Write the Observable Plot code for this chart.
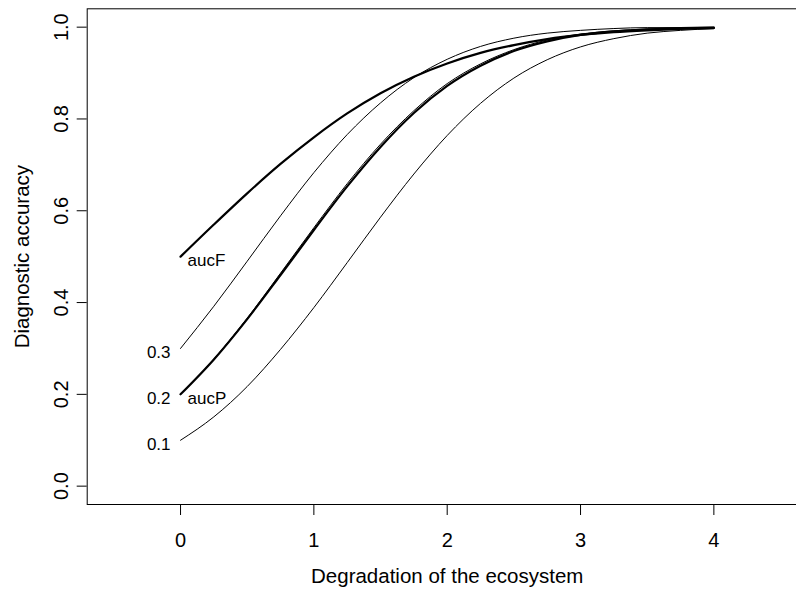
<!DOCTYPE html>
<html>
<head>
<meta charset="utf-8">
<script src="https://cdn.jsdelivr.net/npm/d3@7"></script>
<script src="https://cdn.jsdelivr.net/npm/@observablehq/plot@0.6"></script>
<style>
  html, body { margin: 0; padding: 0; background: #fff; overflow: hidden; }
  svg { overflow: hidden; display: block; }
</style>
</head>
<body>
<div id="chart"></div>
<script>
// Degradation of the ecosystem (x positions where values were read)
const degradation = [0, 0.25, 0.5, 0.75, 1, 1.25, 1.5, 1.75, 2, 2.25, 2.5, 2.75, 3, 3.25, 3.5, 3.75, 4];

// Diagnostic accuracy of each curve
const acc01  = [0.100, 0.151, 0.217, 0.298, 0.389, 0.487, 0.586, 0.680, 0.764, 0.834, 0.889, 0.929, 0.957, 0.975, 0.987, 0.993, 0.997];
const acc02  = [0.200, 0.277, 0.366, 0.464, 0.563, 0.659, 0.745, 0.818, 0.877, 0.920, 0.951, 0.972, 0.985, 0.992, 0.996, 0.998, 0.999];
const acc03  = [0.300, 0.392, 0.490, 0.589, 0.683, 0.766, 0.835, 0.890, 0.930, 0.958, 0.976, 0.987, 0.993, 0.997, 0.999, 0.999, 1.000];
const aucP   = [0.200, 0.276, 0.364, 0.460, 0.558, 0.653, 0.739, 0.813, 0.872, 0.916, 0.948, 0.969, 0.983, 0.991, 0.995, 0.998, 0.999];
const aucF   = [0.500, 0.570, 0.638, 0.702, 0.760, 0.812, 0.856, 0.892, 0.921, 0.944, 0.961, 0.974, 0.983, 0.989, 0.993, 0.996, 0.998];

const seriesNames = ["0.1", "0.2", "0.3", "aucP", "aucF"];
const seriesValues = [acc01, acc02, acc03, aucP, aucF];
const thickSeries = ["aucP", "aucF"];

// Labels at the start of each curve
const leftLabels = ["0.3", "0.2", "0.1"];
const leftLabelY = [0.3, 0.2, 0.1];
const rightLabels = ["aucF", "aucP"];
const rightLabelY = [0.5, 0.2];

// Axes
const xTicks = [0, 1, 2, 3, 4];
const yTicks = [0.0, 0.2, 0.4, 0.6, 0.8, 1.0];
const xTitle = "Degradation of the ecosystem";
const yTitle = "Diagnostic accuracy";

const rows = [];
seriesNames.forEach((name, i) => {
  degradation.forEach((x, j) => rows.push({series: name, x, y: seriesValues[i][j]}));
});
const thin = rows.filter(d => !thickSeries.includes(d.series));
const thick = rows.filter(d => thickSeries.includes(d.series));

const font = "Liberation Sans, Arial, Helvetica, sans-serif";

const chart = Plot.plot({
  width: 796,
  height: 590,
  marginLeft: 86.7,
  marginRight: -10.7,
  marginTop: 8.3,
  marginBottom: 86,
  style: {fontFamily: font, background: "#fff", color: "#000"},
  x: {domain: [-0.7, 4.7], axis: null},
  y: {domain: [-0.04, 1.04], axis: null},
  marks: [
    Plot.frame({stroke: "#000", strokeWidth: 1}),
    Plot.axisX({ticks: xTicks, tickSize: 11, tickFormat: () => "", label: null, stroke: "#000", strokeWidth: 1}),
    Plot.axisY({ticks: yTicks, tickSize: 10, tickFormat: () => "", label: null, stroke: "#000", strokeWidth: 1}),
    Plot.text(xTicks, {x: d => d, frameAnchor: "bottom", dy: 36, text: d => String(d), fontSize: 20, textAnchor: "middle", lineAnchor: "middle", fill: "#000"}),
    Plot.text(yTicks, {y: d => d, frameAnchor: "left", dx: -26, rotate: -90, text: d => d3.format(".1f")(d), fontSize: 20, textAnchor: "middle", lineAnchor: "middle", fill: "#000"}),
    Plot.text([xTitle], {frameAnchor: "bottom", dy: 72, text: d => d, fontSize: 20.5, textAnchor: "middle", lineAnchor: "middle", fill: "#000"}),
    Plot.text([yTitle], {frameAnchor: "left", dx: -65, rotate: -90, text: d => d, fontSize: 20.5, textAnchor: "middle", lineAnchor: "middle", fill: "#000"}),
    Plot.line(thin, {x: "x", y: "y", z: "series", stroke: "#000", strokeWidth: 1, curve: "monotone-x"}),
    Plot.line(thick, {x: "x", y: "y", z: "series", stroke: "#000", strokeWidth: 2.2, curve: "monotone-x"}),
    Plot.text(leftLabels, {x: 0, y: (d, i) => leftLabelY[i], text: d => d, textAnchor: "end", dx: -10, dy: 4, fontSize: 17, lineAnchor: "middle", fill: "#000"}),
    Plot.text(rightLabels, {x: 0, y: (d, i) => rightLabelY[i], text: d => d, textAnchor: "start", dx: 7, dy: 4, fontSize: 17, lineAnchor: "middle", fill: "#000"})
  ]
});
document.getElementById("chart").appendChild(chart);
</script>
</body>
</html>
